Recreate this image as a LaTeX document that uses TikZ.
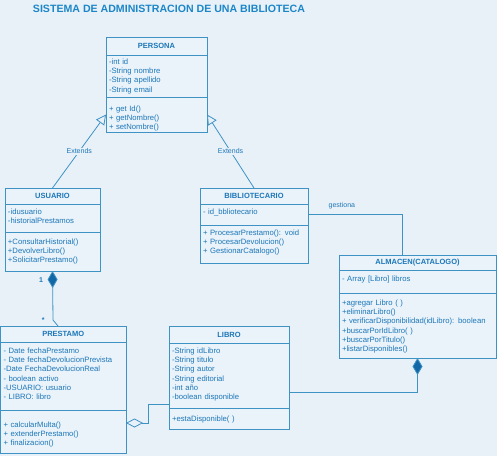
\documentclass[tikz,border=0pt]{standalone}
\usepackage{fontspec}
\setmainfont{Liberation Sans}
\usetikzlibrary{arrows.meta,positioning,calc}
\definecolor{pagebg}{RGB}{232,241,248}
\definecolor{boxbg}{RGB}{234,243,250}
\definecolor{umlline}{RGB}{62,146,196}
\definecolor{umltext}{RGB}{28,118,184}
\definecolor{titleblue}{RGB}{28,134,200}
\definecolor{darkdiamond}{RGB}{18,104,166}
\tikzset{
  font=\fontsize{7.7}{9.1}\selectfont,
  title/.style={
    text=titleblue,
    font=\fontsize{10.6}{12}\selectfont\bfseries
  },
  head/.style={
    draw=umlline,
    fill=boxbg,
    line width=0.8pt,
    anchor=north west,
    inner sep=0pt,
    outer sep=0pt,
    text=umltext,
    font=\fontsize{7.5}{9}\selectfont\bfseries
  },
  sect/.style={
    draw=umlline,
    fill=boxbg,
    line width=0.8pt,
    inner xsep=3pt,
    inner ysep=0pt,
    outer sep=0pt,
    align=left,
    text=umltext,
    text width=#1
  },
  lbl/.style={
    fill=pagebg,
    inner sep=1pt,
    text=umltext,
    font=\fontsize{7}{8}\selectfont
  },
  mult/.style={
    inner sep=1pt,
    text=umltext,
    font=\fontsize{7}{8}\selectfont\bfseries
  },
  assoc/.style={draw=umlline, line width=0.8pt},
  extends/.style={assoc, -{Triangle[length=10pt, width=10pt, fill=pagebg]}},
  compo/.style={assoc, -{Diamond[length=17pt, width=10pt, fill=darkdiamond]}},
  aggr/.style={assoc, -{Diamond[length=17pt, width=9pt, fill=pagebg]}}
}

\begin{document}
\begin{tikzpicture}[x=1pt, y=-1pt]

\fill[pagebg] (0,0) rectangle (497,456);
\useasboundingbox (0,0) rectangle (497,456);

\node[title] (titulo) at (169,9) {SISTEMA DE ADMINISTRACION DE UNA BIBLIOTECA};

% --- PERSONA ---
\node[head, minimum width=101pt, minimum height=18pt] (persona) at (106,37) {PERSONA};
\node[sect=95pt, below=0pt of persona, text height=9.7pt, text depth=32.3pt] (persona-attr)
  {-int id\\-String nombre\\-String apellido\\-String email};
\node[sect=95pt, below=0pt of persona-attr, text height=14.7pt, text depth=20.3pt] (persona-ops)
  {+ get Id()\\+ getNombre()\\+ setNombre()};

% --- USUARIO ---
\node[head, minimum width=95pt, minimum height=16pt] (usuario) at (5,188) {USUARIO};
\node[sect=89pt, below=0pt of usuario, text height=10.7pt, text depth=17.3pt] (usuario-attr)
  {-idusuario\\-historialPrestamos};
\node[sect=89pt, below=0pt of usuario-attr, text height=12.7pt, text depth=26.3pt] (usuario-ops)
  {+ConsultarHistorial()\\+DevolverLibro()\\+SolicitarPrestamo()};

% --- BIBLIOTECARIO ---
\node[head, minimum width=108pt, minimum height=16pt] (bibliotecario) at (200,188) {BIBLIOTECARIO};
\node[sect=102pt, below=0pt of bibliotecario, text height=10.7pt, text depth=10.3pt] (bibliotecario-attr)
  {- id\_bbliotecario};
\node[sect=102pt, below=0pt of bibliotecario-attr, text height=10.7pt, text depth=27.3pt] (bibliotecario-ops)
  {+ ProcesarPrestamo(): void\\+ ProcesarDevolucion()\\+ GestionarCatalogo()};

% --- ALMACEN ---
\node[head, minimum width=157pt, minimum height=15pt] (almacen) at (339,255) {ALMACEN(CATALOGO)};
\node[sect=151pt, below=0pt of almacen, text height=11.7pt, text depth=11.3pt] (almacen-attr)
  {- Array [Libro] libros};
\node[sect=151pt, below=0pt of almacen-attr, text height=12.7pt, text depth=52.3pt] (almacen-ops)
  {+agregar Libro ( )\\+eliminarLibro()\\+ verificarDisponibilidad(idLibro): boolean\\+buscarPorIdLibro( )\\+buscarPorTitulo()\\+listarDisponibles()};

% --- PRESTAMO ---
\node[head, minimum width=125.5pt, minimum height=16pt] (prestamo) at (0.5,326) {PRESTAMO};
\node[sect=119.5pt, below=0pt of prestamo, text height=11.7pt, text depth=56.3pt] (prestamo-attr)
  {- Date fechaPrestamo\\- Date fechaDevolucionPrevista\\-Date FechaDevolucionReal\\- boolean activo\\-USUARIO: usuario\\- LIBRO: libro};
\node[sect=119.5pt, below=0pt of prestamo-attr, text height=17.7pt, text depth=25.3pt] (prestamo-ops)
  {+ calcularMulta()\\+ extenderPrestamo()\\+ finalizacion()};

% --- LIBRO ---
\node[head, minimum width=120pt, minimum height=17pt] (libro) at (169,326) {LIBRO};
\node[sect=114pt, below=0pt of libro, text height=10.7pt, text depth=54.3pt] (libro-attr)
  {-String idLibro\\-String titulo\\-String autor\\-String editorial\\-int año\\-boolean disponible};
\node[sect=114pt, below=0pt of libro-attr, text height=13.7pt, text depth=7.3pt] (libro-ops)
  {+estaDisponible( )};

% --- herencia ---
\draw[extends] (usuario.north) -- node[lbl] {Extends} (persona-ops.west);
\draw[extends] (bibliotecario.north) -- node[lbl] {Extends} (persona-ops.east);

% --- asociaciones ---
\draw[assoc] (bibliotecario-attr.east) -| node[lbl, above=4pt, pos=0.18] {gestiona}
  ([xshift=-15.5pt]almacen.north);
\draw[compo] (prestamo.north west) ++(57.5,0) -- ++(-5,-6) node[mult, left=7pt] {*}
  -- (usuario-ops.south) node[mult, below left=5pt and 8pt] {1};
\draw[aggr] ([yshift=4pt]libro-attr.south west) -| ([xshift=22pt, yshift=8.5pt]prestamo-ops.east)
  -- ([yshift=8.5pt]prestamo-ops.east);
\draw[compo] ([yshift=16pt]libro-attr.south east) -| (almacen-ops.south);

\end{tikzpicture}
\end{document}
